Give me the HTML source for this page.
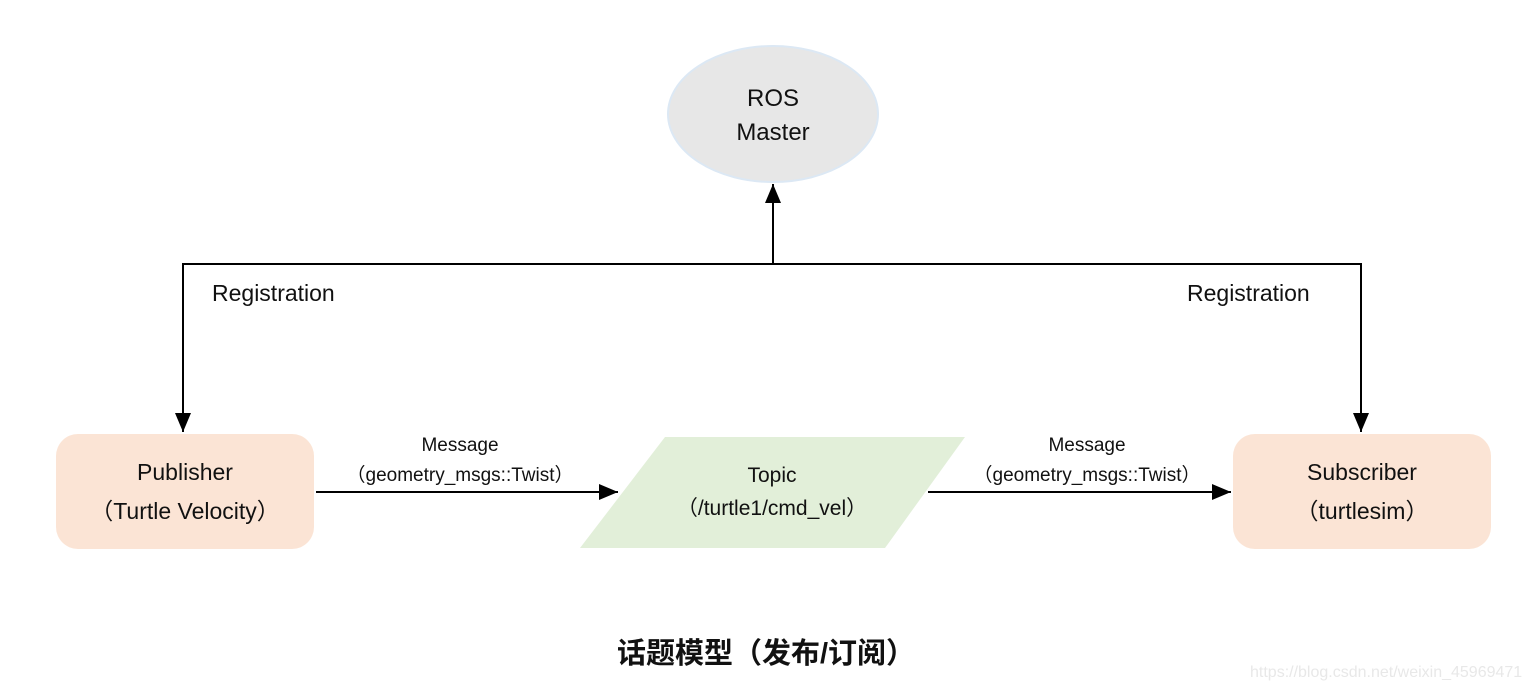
<!DOCTYPE html>
<html><head><meta charset="utf-8"><style>
html,body{margin:0;padding:0;background:#fff;width:1529px;height:690px;overflow:hidden}
svg{display:block}
text{font-family:"Liberation Sans","Noto Sans CJK SC",sans-serif;fill:#111}
</style></head><body>
<svg width="1529" height="690" viewBox="0 0 1529 690" xmlns="http://www.w3.org/2000/svg">
<defs>
<marker id="a" markerWidth="10" markerHeight="10" refX="9" refY="5" orient="auto" markerUnits="userSpaceOnUse">
<path d="M0,0 L10,5 L0,10 z" fill="#000"/></marker>
<marker id="b" markerWidth="20" markerHeight="20" refX="19" refY="8" orient="auto" markerUnits="userSpaceOnUse">
<path d="M0,0 L19,8 L0,16 z" fill="#000"/></marker>
</defs>
<ellipse cx="773" cy="114" rx="105" ry="68" fill="#e7e7e7" stroke="#dce8f4" stroke-width="2"/>
<text x="773" y="106" font-size="24" text-anchor="middle">ROS</text>
<text x="773" y="140" font-size="24" text-anchor="middle">Master</text>

<rect x="56" y="434" width="258" height="115" rx="22" fill="#fbe4d5"/>
<text x="185" y="480" font-size="23" text-anchor="middle">Publisher</text>
<text x="185" y="519" font-size="23" text-anchor="middle">（Turtle Velocity）</text>

<rect x="1233" y="434" width="258" height="115" rx="22" fill="#fbe4d5"/>
<text x="1362" y="480" font-size="23" text-anchor="middle">Subscriber</text>
<text x="1362" y="519" font-size="23" text-anchor="middle">（turtlesim）</text>

<polygon points="665,437 965,437 885,548 580,548" fill="#e2efd9"/>
<text x="772" y="482" font-size="21" text-anchor="middle">Topic</text>
<text x="772" y="515" font-size="21" text-anchor="middle">（/turtle1/cmd_vel）</text>

<g stroke="#000" stroke-width="2" fill="none">
<polyline points="183,264 1361,264"/>
<line x1="773" y1="264" x2="773" y2="184" marker-end="url(#b)"/>
<line x1="183" y1="263" x2="183" y2="432" marker-end="url(#b)"/>
<line x1="1361" y1="263" x2="1361" y2="432" marker-end="url(#b)"/>
<line x1="316" y1="492" x2="618" y2="492" marker-end="url(#b)"/>
<line x1="928" y1="492" x2="1231" y2="492" marker-end="url(#b)"/>
</g>
<text x="212" y="301" font-size="23">Registration</text>
<text x="1187" y="301" font-size="23">Registration</text>
<text x="460" y="451" font-size="19" text-anchor="middle">Message</text>
<text x="460" y="481" font-size="19" text-anchor="middle">（geometry_msgs::Twist）</text>
<text x="1087" y="451" font-size="19" text-anchor="middle">Message</text>
<text x="1087" y="481" font-size="19" text-anchor="middle">（geometry_msgs::Twist）</text>
<text x="766" y="663" font-size="29" font-weight="bold" text-anchor="middle">话题模型（发布/订阅）</text>
<text x="1250" y="677" font-size="16" fill="#e8e8e8" style="fill:#e8e8e8">https://blog.csdn.net/weixin_45969471</text>
</svg>
</body></html>
